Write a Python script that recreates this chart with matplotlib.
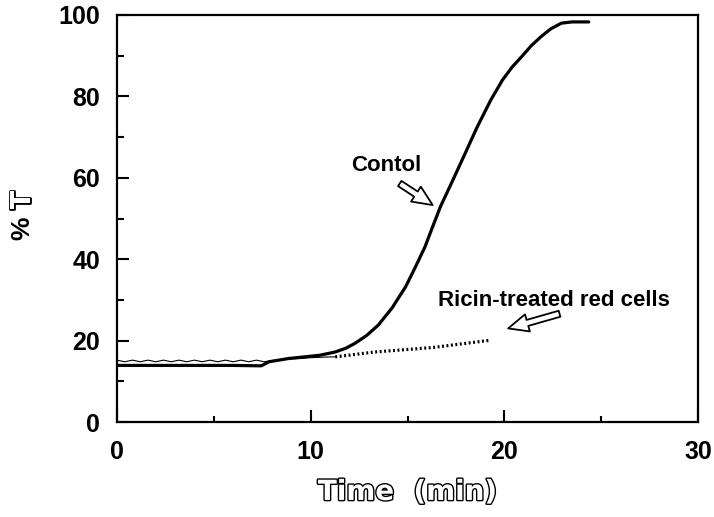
import matplotlib
matplotlib.use("Agg")
import matplotlib.pyplot as plt
import matplotlib.patheffects as pe

# control curve (solid thick)
control_t = [0, 2, 4, 6, 7.45, 7.85, 8.86, 10.47, 11.27, 11.8, 12.28, 12.9, 13.49, 14.2,
             14.9, 15.4, 15.9, 16.3, 16.7, 17.3, 17.9, 18.6, 19.3, 19.9, 20.4, 20.9,
             21.4, 21.9, 22.4, 22.95, 23.5, 24.36]
control_T = [13.9, 13.9, 13.9, 13.9, 13.8, 14.8, 15.6, 16.4, 17.2, 18.1, 19.3, 21.3, 23.8, 28.0,
             33.2, 38.0, 43.0, 48.0, 52.9, 59.0, 65.2, 72.5, 79.1, 84.0, 87.2, 89.8,
             92.5, 94.7, 96.6, 98.0, 98.3, 98.3]

# ricin-treated cells: noisy thin trace, then dotted
ricin_t = [0, 0.4, 0.8, 1.2, 1.6, 2.0, 2.4, 2.8, 3.2, 3.6, 4.0, 4.4, 4.8, 5.2, 5.6,
           6.0, 6.4, 6.8, 7.2, 7.6, 8.0, 8.5, 9.0, 9.5, 10.0, 10.5, 11.0, 11.27]
ricin_T = [15.2, 14.8, 15.2, 14.8, 15.2, 14.8, 15.2, 14.8, 15.2, 14.8, 15.2, 14.8, 15.2, 14.8, 15.2,
           14.8, 15.2, 14.8, 15.2, 14.8, 15.1, 15.3, 15.5, 15.6, 15.8, 15.9, 16.0, 16.0]
ricin_dot_t = [11.27, 13.3, 16.3, 19.3]
ricin_dot_T = [16.0, 17.2, 18.3, 20.1]

x_ticks = [0, 10, 20, 30]
y_ticks = [0, 20, 40, 60, 80, 100]

fig = plt.figure(figsize=(7.14, 5.17), dpi=100)
ax = fig.add_axes([117/714, 95/517, 581/714, 407/517])

ax.plot(control_t, control_T, color='black', linewidth=2.3, solid_capstyle='round',
        solid_joinstyle='round')
ax.plot(ricin_t, ricin_T, color='black', linewidth=0.8)
ax.plot(ricin_dot_t, ricin_dot_T, color='black', linewidth=2.3, linestyle=(0, (0.6, 0.8)))

ax.set_xlim(0, 30)
ax.set_ylim(0, 100)
ax.set_xticks(x_ticks)
ax.set_xticks([5, 15, 25], minor=True)
ax.set_yticks(y_ticks)
ax.set_yticks([10, 30, 50, 70, 90], minor=True)

lab_font = dict(family='Liberation Sans', size=18, weight='bold')
ax.set_xticklabels([str(v) for v in x_ticks], fontdict=lab_font)
ax.set_yticklabels([str(v) for v in y_ticks], fontdict=lab_font)
ax.tick_params(which='both', direction='in', width=1.5, top=False, right=False)
ax.tick_params(axis='y', which='major', length=8.5, pad=12)
ax.tick_params(axis='y', which='minor', length=5)
ax.tick_params(axis='x', which='major', length=9, pad=13)
ax.tick_params(axis='x', which='minor', length=4.5)
for s in ax.spines.values():
    s.set_linewidth(1.6)

outline = [pe.Stroke(linewidth=2.0, foreground='black'), pe.Normal()]
ax.set_xlabel("Time  (min)", family='DejaVu Sans', size=20, weight='bold',
              color='white', path_effects=outline, labelpad=10)
ax.text(-0.163, 0.477, "%", transform=ax.transAxes, rotation=90, ha='center', va='center',
        family='Liberation Sans', size=19, weight='bold')
ax.text(-0.163, 0.545, "T", transform=ax.transAxes, rotation=90, ha='center', va='center',
        family='DejaVu Sans', size=20, weight='bold', color='white', path_effects=outline)

note_font = dict(family='Liberation Sans', size=16, weight='bold')
ax.text(13.9, 63.1, "Contol", ha='center', va='center', **note_font)
ax.text(22.55, 29.9, "Ricin-treated red cells", ha='center', va='center', **note_font)

arrow = dict(arrowstyle='simple,head_length=0.9,head_width=0.8,tail_width=0.28',
             fc='white', ec='black', lw=1.3, shrinkA=0, shrinkB=0, mutation_scale=16)
ax.annotate('', xy=(16.3, 53.3), xytext=(14.6, 58.6), arrowprops=arrow)
ax.annotate('', xy=(20.2, 23.0), xytext=(22.85, 26.6), arrowprops=arrow)

fig.savefig("out.png", dpi=100)
